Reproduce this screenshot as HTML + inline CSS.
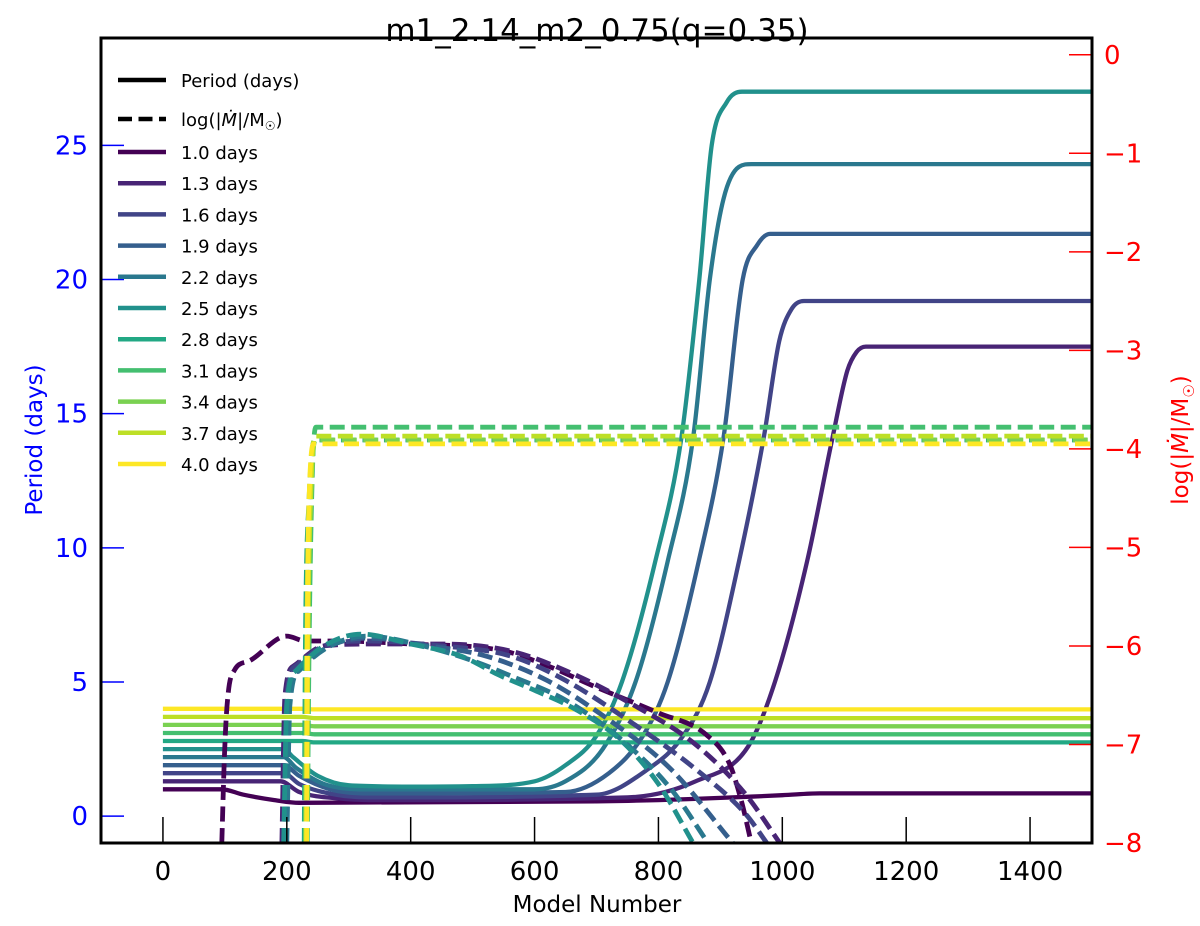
<!DOCTYPE html>
<html><head><meta charset="utf-8"><style>
html,body{margin:0;padding:0;background:#fff;}
svg{display:block;font-family:"DejaVu Sans","Liberation Sans",sans-serif;}
</style></head><body>
<svg id="chart" width="1200" height="926" viewBox="0 0 1200 926">
<defs><clipPath id="clip"><rect x="101" y="38" width="991" height="805"/></clipPath></defs>
<text x="597" y="41" font-size="31" text-anchor="middle">m1_2.14_m2_0.75(q=0.35)</text>
<g id="series" clip-path="url(#clip)"></g>
<g id="axes"></g>
<g id="legend"></g>
<text x="597" y="912" font-size="23" text-anchor="middle">Model Number</text>
<text transform="translate(42,440) rotate(-90)" font-size="23" fill="#0000ff" text-anchor="middle">Period (days)</text>
<text transform="translate(1188,440) rotate(-90)" font-size="23" fill="#ff0000" text-anchor="middle">log(|<tspan font-style="italic">Ṁ</tspan>|/M<tspan font-size="15" dy="6">☉</tspan><tspan dy="-6">)</tspan></text>
</svg>
<script>
const labels = ["1.0","1.3","1.6","1.9","2.2","2.5","2.8","3.1","3.4","3.7","4.0"];
const colors = ["#440154","#482475","#414487","#355f8d","#2a788e","#21918c","#22a884","#44bf70","#7ad151","#bddf26","#fde725"];
const xTicks = [0,200,400,600,800,1000,1200,1400];
const leftTicks = [0,5,10,15,20,25];
const rightTicks = [0,-1,-2,-3,-4,-5,-6,-7,-8];
const period10 = [[0,1.0],[95,1.0],[130,0.8],[180,0.6],[220,0.5],[700,0.55],[800,0.6],[900,0.68],[1000,0.78],[1060,0.85],[1500,0.85]];
const period13 = [[0,1.3],[190,1.3],[220,0.9],[290,0.65],[350,0.6],[750,0.7],[860,1.3],[945,2.6],[988,5],[1040,9.5],[1081,14.1],[1105,16.6],[1120,17.3],[1135,17.5],[1500,17.5]];
const period16 = [[0,1.6],[195,1.6],[220,1.2],[280,0.8],[340,0.7],[700,0.8],[780,1.7],[840,3],[883,5],[930,9.5],[970,14.1],[995,17.7],[1015,18.9],[1035,19.2],[1500,19.2]];
const period19 = [[0,1.9],[195,1.9],[220,1.5],[270,1.0],[330,0.85],[650,0.9],[720,1.6],[775,3],[815,5],[865,9.5],[905,14.1],[936,20],[960,21.3],[980,21.7],[1500,21.7]];
const period22 = [[0,2.2],[195,2.2],[215,1.8],[260,1.2],[320,1.0],[600,1.0],[650,1.3],[710,2.5],[763,5],[815,9.5],[856,14.1],[883,20],[905,23],[930,24.2],[950,24.3],[1500,24.3]];
const period25 = [[0,2.5],[195,2.5],[210,2.2],[250,1.5],[300,1.15],[400,1.1],[500,1.12],[600,1.3],[650,1.9],[700,3],[741,5],[795,9.5],[837,14.1],[866,20],[886,25],[910,26.6],[935,27],[1500,27]];
const period28 = [[0,2.8],[225,2.8],[245,2.75],[1500,2.75]];
const period31 = [[0,3.1],[225,3.1],[245,3.05],[1500,3.05]];
const period34 = [[0,3.4],[225,3.4],[245,3.35],[1500,3.35]];
const period37 = [[0,3.7],[225,3.7],[245,3.65],[1500,3.65]];
const period40 = [[0,4.0],[225,4.0],[245,3.98],[1500,3.98]];
const mdot10 = [[95,-8],[100,-7],[105,-6.5],[115,-6.25],[140,-6.15],[200,-5.9],[230,-5.95],[280,-5.95],[400,-5.98],[550,-6.05],[620,-6.2],[700,-6.42],[800,-6.68],[877,-6.9],[915,-7.2],[935,-7.6],[950,-8]];
const mdot13 = [[192,-8],[197,-6.5],[212,-6.2],[260,-6.0],[340,-5.98],[450,-5.98],[560,-6.05],[650,-6.25],[760,-6.6],[860,-7.0],[940,-7.5],[996,-8]];
const mdot16 = [[195,-8],[200,-6.5],[215,-6.2],[260,-6.0],[330,-5.95],[450,-6.0],[560,-6.1],[650,-6.35],[750,-6.75],[860,-7.25],[940,-7.7],[975,-8]];
const mdot19 = [[198,-8],[203,-6.6],[218,-6.25],[270,-6.0],[330,-5.92],[430,-6.0],[520,-6.1],[620,-6.35],[720,-6.75],[820,-7.25],[920,-8]];
const mdot22 = [[200,-8],[205,-6.6],[220,-6.25],[270,-6.0],[330,-5.9],[420,-6.0],[500,-6.15],[560,-6.3],[650,-6.55],[740,-6.95],[820,-7.45],[880,-8]];
const mdot25 = [[195,-8],[200,-6.6],[215,-6.25],[260,-6.0],[320,-5.88],[400,-5.98],[480,-6.1],[544,-6.3],[600,-6.45],[668,-6.65],[738,-6.95],[800,-7.4],[856,-8]];
const mdot28 = [[228,-8],[230,-6],[236,-4.5],[245,-3.91],[1500,-3.91]];
const mdot31 = [[233,-8],[236,-6],[241,-4.3],[247,-3.78],[1500,-3.78]];
const mdot34 = [[230,-8],[232,-6],[238,-4.5],[246,-3.91],[1500,-3.91]];
const mdot37 = [[232,-8],[234,-6],[239,-4.4],[246,-3.87],[1500,-3.87]];
const mdot40 = [[232,-8],[233,-6],[236,-4.5],[244,-3.95],[1500,-3.95]];
const periods = [period10,period13,period16,period19,period22,period25,period28,period31,period34,period37,period40];
const mdots = [mdot10,mdot13,mdot16,mdot19,mdot22,mdot25,mdot28,mdot31,mdot34,mdot37,mdot40];

const NS="http://www.w3.org/2000/svg";
const X0=101,X1=1092,Y0=38,Y1=843;
const xs=v=>X0+(v+100)/1600*(X1-X0);
const yl=v=>Y1-(v+1)/30*(Y1-Y0);
const yr=v=>Y1-(v+8)/8.17*(Y1-Y0);
function mk(tag,parent){const e=document.createElementNS(NS,tag);parent.appendChild(e);return e;}
function pathOf(pts,fy){
  const P=pts.map(p=>[xs(p[0]),fy(p[1])]);
  const n=P.length;
  if(n<3)return P.map((p,i)=>(i?'L':'M')+p[0].toFixed(1)+','+p[1].toFixed(1)).join('');
  const d=[],m=[];
  for(let i=0;i<n-1;i++){const dx=P[i+1][0]-P[i][0];d.push(dx>0?(P[i+1][1]-P[i][1])/dx:0);}
  m[0]=d[0];m[n-1]=d[n-2];
  for(let i=1;i<n-1;i++){m[i]=(d[i-1]*d[i]<=0)?0:(d[i-1]+d[i])/2;}
  for(let i=0;i<n-1;i++){
    if(d[i]===0){m[i]=0;m[i+1]=0;continue;}
    const a=m[i]/d[i],b=m[i+1]/d[i],s=a*a+b*b;
    if(s>9){const t=3/Math.sqrt(s);m[i]=t*a*d[i];m[i+1]=t*b*d[i];}
  }
  let s='M'+P[0][0].toFixed(1)+','+P[0][1].toFixed(1);
  for(let i=0;i<n-1;i++){
    const h=(P[i+1][0]-P[i][0])/3;
    s+='C'+(P[i][0]+h).toFixed(1)+','+(P[i][1]+m[i]*h).toFixed(1)+' '+(P[i+1][0]-h).toFixed(1)+','+(P[i+1][1]-m[i+1]*h).toFixed(1)+' '+P[i+1][0].toFixed(1)+','+P[i+1][1].toFixed(1);
  }
  return s;
}
const S=document.getElementById('series');
periods.forEach((pts,i)=>{
  const p=mk('path',S);
  p.setAttribute('d',pathOf(pts,yl));
  p.setAttribute('fill','none');p.setAttribute('stroke',colors[i]);p.setAttribute('stroke-width','4.3');p.setAttribute('stroke-linejoin','round');
  
  
});
mdots.forEach((pts,i)=>{
  const p=mk('path',S);
  p.setAttribute('d',pathOf(pts,yr));
  p.setAttribute('fill','none');p.setAttribute('stroke',colors[i]);p.setAttribute('stroke-width','4.8');p.setAttribute('stroke-dasharray','15,6.5');
  
  
});
const A=document.getElementById('axes');
xTicks.forEach(t=>{
  const l=mk('line',A);l.setAttribute('x1',xs(t));l.setAttribute('x2',xs(t));l.setAttribute('y1',Y1);l.setAttribute('y2',Y1-26);l.setAttribute('stroke','#000');l.setAttribute('stroke-width','1.5');
  
  
  const tx=mk('text',A);tx.setAttribute('x',xs(t));tx.setAttribute('y',880);tx.setAttribute('font-size','26');tx.setAttribute('text-anchor','middle');tx.textContent=t;
  
  
});
leftTicks.forEach(t=>{
  const l=mk('line',A);l.setAttribute('x1',X0);l.setAttribute('x2',X0+23);l.setAttribute('y1',yl(t));l.setAttribute('y2',yl(t));l.setAttribute('stroke','#0000ff');l.setAttribute('stroke-width','1.5');
  
  
  const tx=mk('text',A);tx.setAttribute('x',88);tx.setAttribute('y',yl(t)+9);tx.setAttribute('font-size','26');tx.setAttribute('text-anchor','end');tx.setAttribute('fill','#0000ff');tx.textContent=t;
  
  
});
rightTicks.forEach(t=>{
  const l=mk('line',A);l.setAttribute('x1',X1-23);l.setAttribute('x2',X1);l.setAttribute('y1',yr(t));l.setAttribute('y2',yr(t));l.setAttribute('stroke','#ff0000');l.setAttribute('stroke-width','1.5');
  
  
  const tx=mk('text',A);tx.setAttribute('x',1104);tx.setAttribute('y',yr(t)+9);tx.setAttribute('font-size','26');tx.setAttribute('fill','#ff0000');tx.textContent=t===0?'0':'\u2212'+Math.abs(t);
  
  
});
const fr=mk('rect',A);fr.setAttribute('x',X0);fr.setAttribute('y',Y0);fr.setAttribute('width',X1-X0);fr.setAttribute('height',Y1-Y0);fr.setAttribute('fill','none');fr.setAttribute('stroke','#000');fr.setAttribute('stroke-width','3');


const L=document.getElementById('legend');
function legRow(y,color,dash,text,name){
  const l=mk('line',L);l.setAttribute('x1',118);l.setAttribute('x2',166);l.setAttribute('y1',y);l.setAttribute('y2',y);l.setAttribute('stroke',color);l.setAttribute('stroke-width','4.5');
  if(dash)l.setAttribute('stroke-dasharray','14,6.5');
  
  
  const t=mk('text',L);t.setAttribute('x',181);t.setAttribute('y',y+7);t.setAttribute('font-size','18');t.innerHTML=text;
  
  
}
legRow(80,'#000',false,'Period (days)','legend-entry-period');
legRow(119,'#000',true,'log(|<tspan font-style="italic">Ṁ</tspan>|/M<tspan font-size="12" dy="4">☉</tspan><tspan dy="-4">)</tspan>','legend-entry-mdot');
labels.forEach((lb,i)=>legRow(152+i*31.2,colors[i],false,lb+' days','legend-entry-'+lb));
</script>
</body></html>
